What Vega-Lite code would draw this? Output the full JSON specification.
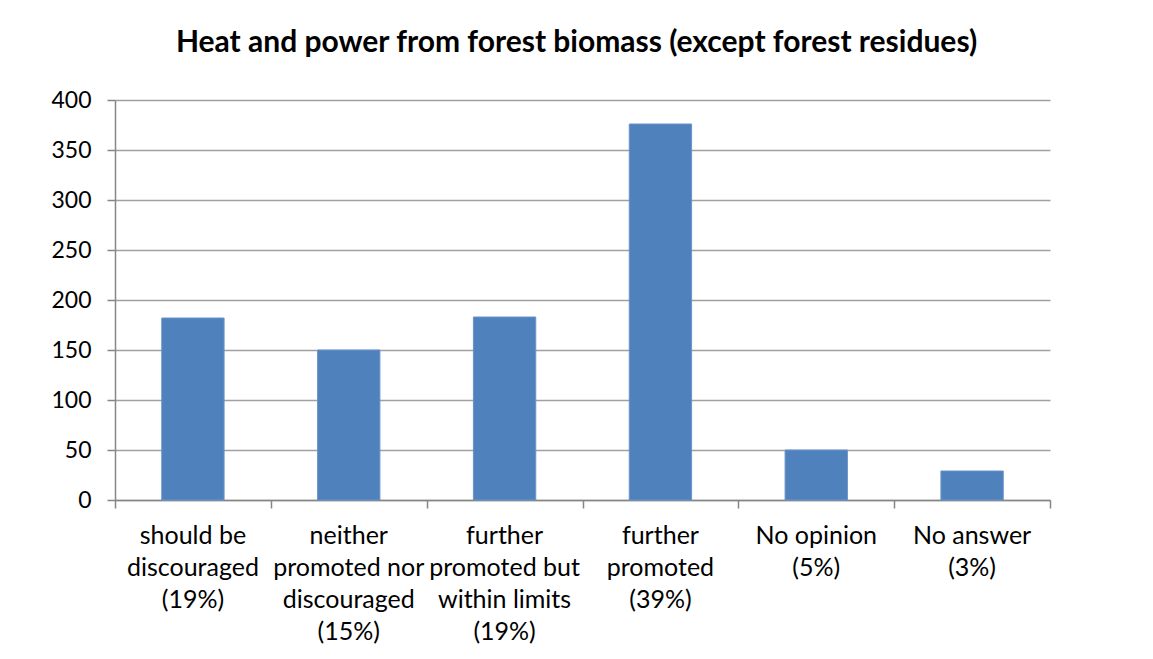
{
  "$schema": "https://vega.github.io/schema/vega-lite/v6.json",
  "width": 935,
  "height": 400,
  "autosize": {"type": "none"},
  "padding": {"left": 115, "top": 100, "right": 103, "bottom": 159},
  "background": "white",
  "title": {
    "text": "Heat and power from forest biomass (except forest residues)",
    "font": "Lato",
    "fontSize": 30,
    "fontWeight": "bold",
    "color": "#000000",
    "anchor": "middle",
    "dx": -6,
    "offset": 31
  },
  "resolve": {"scale": {"x": "independent"}, "axis": {"x": "independent"}},
  "layer": [
    {
      "data": {
        "values": [
          {"category": "should be|discouraged|(19%)", "count": 182},
          {"category": "neither|promoted nor|discouraged|(15%)", "count": 150},
          {"category": "further|promoted but|within limits|(19%)", "count": 183},
          {"category": "further|promoted|(39%)", "count": 376},
          {"category": "No opinion|(5%)", "count": 50},
          {"category": "No answer|(3%)", "count": 29}
        ]
      },
      "mark": {"type": "bar", "color": "#4F81BD", "stroke": "#6A93C8", "strokeWidth": 1},
      "encoding": {
        "x": {
          "field": "category",
          "type": "nominal",
          "sort": null,
          "scale": {"paddingInner": 0.6, "paddingOuter": 0.3},
          "axis": {
            "orient": "bottom",
            "title": null,
            "labelAngle": 0,
            "labelExpr": "split(datum.label, '|')",
            "labelFont": "Lato",
            "labelFontSize": 25,
            "labelColor": "#000000",
            "labelLineHeight": 32.3,
            "labelPadding": 23,
            "labelBaseline": "top",
            "labelLimit": 220,
            "ticks": false,
            "domainColor": "#868686",
            "domainWidth": 1.5,
            "grid": false
          }
        },
        "y": {
          "field": "count",
          "type": "quantitative",
          "scale": {"domain": [0, 400], "nice": false},
          "axis": {
            "title": null,
            "values": [0, 50, 100, 150, 200, 250, 300, 350, 400],
            "labelFont": "Lato",
            "labelFontSize": 23,
            "labelColor": "#000000",
            "labelPadding": 16,
            "tickSize": 8,
            "tickColor": "#868686",
            "tickWidth": 1.5,
            "domainColor": "#868686",
            "domainWidth": 1.5,
            "gridColor": "#A0A0A0",
            "gridWidth": 1.5
          }
        }
      }
    },
    {
      "data": {
        "values": [
          {"boundary": 0}, {"boundary": 1}, {"boundary": 2}, {"boundary": 3},
          {"boundary": 4}, {"boundary": 5}, {"boundary": 6}
        ]
      },
      "mark": {"type": "point", "opacity": 0},
      "encoding": {
        "x": {
          "field": "boundary",
          "type": "quantitative",
          "scale": {"domain": [0, 6], "nice": false, "zero": false},
          "axis": {
            "orient": "bottom",
            "title": null,
            "values": [0, 1, 2, 3, 4, 5, 6],
            "labels": false,
            "domain": false,
            "grid": false,
            "ticks": true,
            "tickSize": 8,
            "tickColor": "#868686",
            "tickWidth": 1.5
          }
        },
        "y": {"datum": 0, "type": "quantitative"}
      }
    }
  ],
  "config": {
    "view": {"stroke": null}
  }
}
